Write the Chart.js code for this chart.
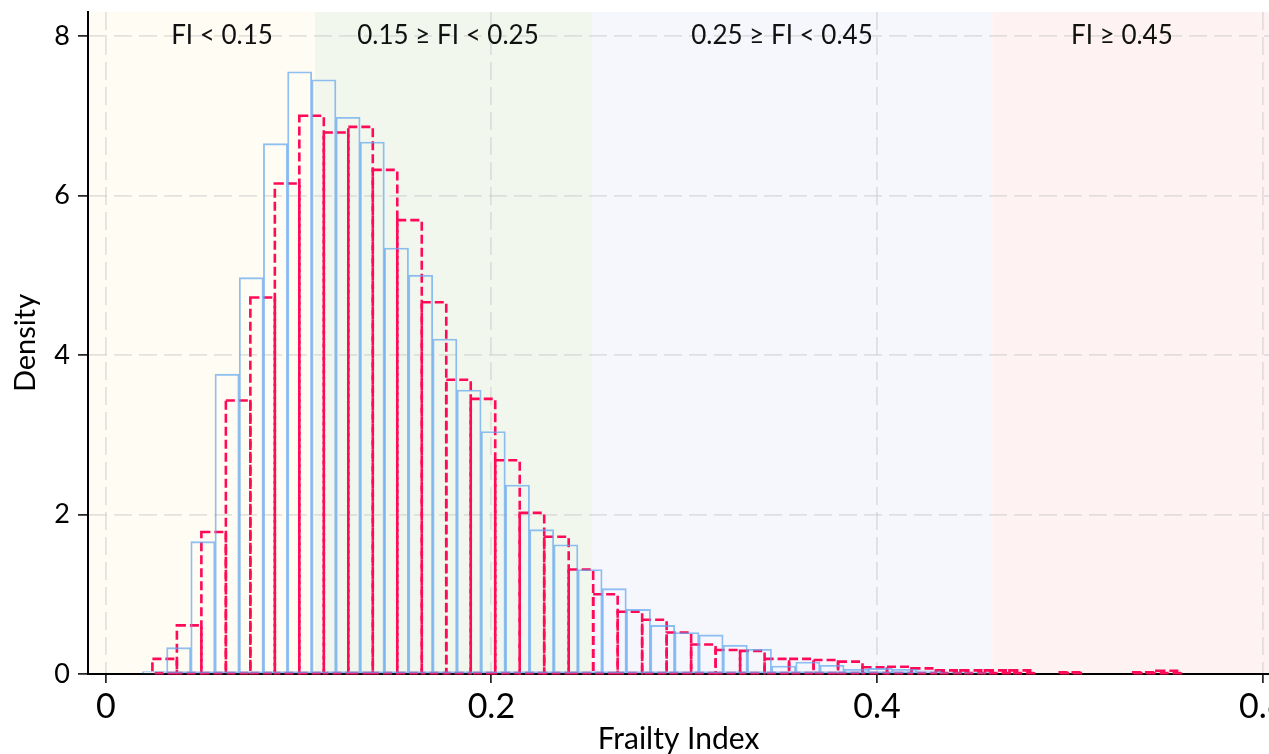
<!DOCTYPE html>
<html>
<head>
<meta charset="utf-8">
<script src="https://cdn.jsdelivr.net/npm/chart.js@4.4.1/dist/chart.umd.min.js"></script>
<style>
  html, body { margin: 0; padding: 0; background: #fff; }
  #wrap { width: 1269px; height: 754px; }
</style>
</head>
<body>
<div id="wrap"><canvas id="chart1"></canvas></div>
<script>
// blue histogram (solid outline): first bin edge, bin width, densities
const blueStart = 0.0190;
const blueWidth = 0.01255;
const blueDensity = [0.03, 0.33, 1.66, 3.76, 4.97, 6.65, 7.55, 7.45, 6.98, 6.67,
    5.34, 5.00, 4.20, 3.56, 3.04, 2.37, 1.81, 1.62, 1.31, 1.07,
    0.81, 0.61, 0.52, 0.49, 0.36, 0.31, 0.10, 0.15, 0.11, 0.06,
    0.07, 0.06, 0.04, 0.02, 0.02, 0.01];

// red histogram (dashed outline)
const redStart = 0.0242;
const redWidth = 0.0127;
const redDensity = [0.19, 0.61, 1.78, 3.43, 4.72, 6.15, 7.00, 6.79, 6.86, 6.32,
    5.69, 4.66, 3.69, 3.45, 2.68, 2.02, 1.72, 1.31, 1.00, 0.78,
    0.68, 0.52, 0.37, 0.30, 0.29, 0.19, 0.19, 0.175, 0.155, 0.085,
    0.09, 0.07, 0.045, 0.045, 0.045, 0.045, null, 0.02, null, null,
    0.02, 0.04];

const xTicks = [0, 0.2, 0.4, 0.6];
const yTicks = [0, 2, 4, 6, 8];
const xMin = -0.0092, xMax = 0.6033;

// frailty bands behind the bars
const bandEdges = [xMin, 0.1085, 0.2522, 0.4598, xMax];
const bandColors = ['rgb(255,252,243)', 'rgb(242,247,238)', 'rgb(246,247,252)', 'rgb(254,243,242)'];
const bandLabels = ['FI < 0.15', '0.15 \u2265 FI < 0.25', '0.25 \u2265 FI < 0.45', 'FI \u2265 0.45'];
const bandLabelX = [0.0603, 0.1775, 0.3507, 0.5270];
const bandLabelY = 8.0;

const FONT = 'Lato';

function binPoints(start, width, values) {
    return values.map((v, i) => ({ x: start + width * (i + 0.5), y: v }));
}

const bandsPlugin = {
    id: 'bands',
    beforeDraw(chart) {
        const { ctx, chartArea, scales } = chart;
        ctx.save();
        for (let i = 0; i < bandColors.length; i++) {
            const x0 = scales.x.getPixelForValue(bandEdges[i]);
            const x1 = scales.x.getPixelForValue(bandEdges[i + 1]);
            ctx.fillStyle = bandColors[i];
            ctx.fillRect(x0, chartArea.top, x1 - x0, chartArea.bottom - chartArea.top);
        }
        ctx.restore();
    },
    afterDraw(chart) {
        const { ctx, scales } = chart;
        ctx.save();
        ctx.font = '26px ' + FONT;
        ctx.fillStyle = '#111';
        ctx.textAlign = 'center';
        ctx.textBaseline = 'middle';
        bandLabels.forEach((t, i) => {
            ctx.fillText(t, scales.x.getPixelForValue(bandLabelX[i]), scales.y.getPixelForValue(bandLabelY));
        });
        ctx.restore();
    }
};

// Chart.js bars have no dashed borders, so stroke the outline of each bar element
const dashedBars = {
    id: 'dashedBars',
    afterDatasetDraw(chart, args) {
        const ds = chart.data.datasets[args.index];
        if (!ds.outlineDash) return;
        const ctx = chart.ctx;
        ctx.save();
        ctx.setLineDash(ds.outlineDash);
        ctx.lineWidth = ds.outlineWidth;
        ctx.strokeStyle = ds.outlineColor;
        args.meta.data.forEach((bar, i) => {
            if (ds.data[i].y === null) return;
            const p = bar.getProps(['x', 'y', 'base', 'width'], true);
            ctx.strokeRect(p.x - p.width / 2, p.y, p.width, p.base - p.y);
        });
        ctx.restore();
    }
};

function initializeChart() {
    const gridStyle = { color: 'rgba(200,200,200,0.5)', lineWidth: 1.8, tickColor: '#000', tickWidth: 1.5, offset: false };
    const borderStyle = { color: '#000', width: 2, dash: [18, 7] };

    const ctx = document.getElementById('chart1').getContext('2d');
    new Chart(ctx, {
        type: 'bar',
        data: {
            datasets: [{
                data: binPoints(blueStart, blueWidth, blueDensity),
                xAxisID: 'x',
                backgroundColor: 'rgba(0,0,0,0)',
                borderColor: 'rgba(95,165,240,0.7)',
                borderWidth: 1.2,
                borderSkipped: false,
                barPercentage: 1,
                categoryPercentage: 1,
                grouped: false
            }, {
                data: binPoints(redStart, redWidth, redDensity),
                xAxisID: 'x2',
                backgroundColor: 'rgba(0,0,0,0)',
                borderWidth: 0,
                barPercentage: 1,
                categoryPercentage: 1,
                grouped: false,
                outlineDash: [9, 4],
                outlineWidth: 2.6,
                outlineColor: '#ff0a58'
            }]
        },
        options: {
            responsive: true,
            maintainAspectRatio: false,
            animation: false,
            layout: { padding: { top: 12, right: 0, left: 0, bottom: 0 } },
            plugins: { legend: { display: false }, tooltip: { enabled: false } },
            scales: {
                x: {
                    type: 'linear', min: xMin, max: xMax, offset: false,
                    afterBuildTicks: s => { s.ticks = xTicks.map(v => ({ value: v })); },
                    afterFit: s => { s.height = 80; s.paddingLeft = 0; s.paddingRight = 0; },
                    ticks: { font: { family: FONT, size: 34 }, color: '#000', padding: 4, maxRotation: 0,
                        callback: v => String(v) },
                    grid: Object.assign({ tickLength: 9 }, gridStyle),
                    border: borderStyle,
                    title: { display: true, text: 'Frailty Index', color: '#000',
                        font: { family: FONT, size: 30, lineHeight: 1.0 }, padding: { top: 0, bottom: 0 } }
                },
                x2: {
                    type: 'linear', min: xMin, max: xMax, offset: false, display: false,
                    grid: { offset: false },
                    afterBuildTicks: s => { s.ticks = xTicks.map(v => ({ value: v })); },
                    afterFit: s => { s.height = 0; s.paddingLeft = 0; s.paddingRight = 0; }
                },
                y: {
                    min: 0, max: 8.3,
                    afterBuildTicks: s => { s.ticks = yTicks.map(v => ({ value: v })); },
                    afterFit: s => { s.width = 88; s.paddingTop = 0; s.paddingBottom = 0; },
                    ticks: { font: { family: FONT, size: 27 }, color: '#000', padding: 8 },
                    grid: Object.assign({ tickLength: 10 }, gridStyle),
                    border: borderStyle,
                    title: { display: true, text: 'Density', color: '#000',
                        font: { family: FONT, size: 29 }, padding: { top: 8, bottom: 0 } }
                }
            }
        },
        plugins: [bandsPlugin, dashedBars]
    });
}

window.onload = initializeChart;
</script>
</body>
</html>
